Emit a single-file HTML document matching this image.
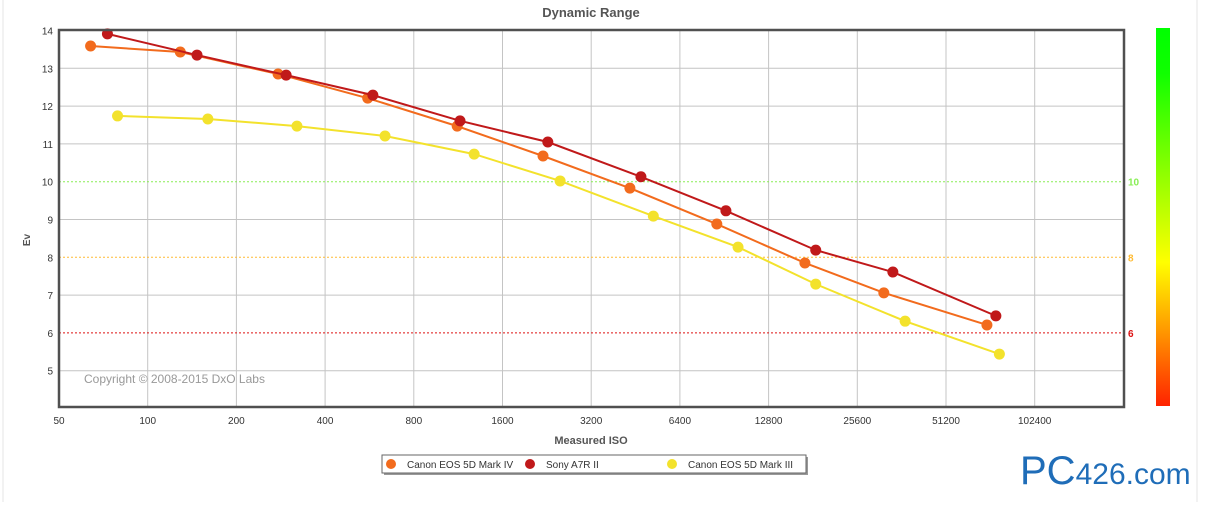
<!DOCTYPE html>
<html><head><meta charset="utf-8"><style>
body{margin:0;background:#fff;width:1210px;height:502px;overflow:hidden;font-family:"Liberation Sans",sans-serif}
</style></head><body>
<svg width="1210" height="502" xmlns="http://www.w3.org/2000/svg" id="svg">
<defs><linearGradient id="cb" x1="0" y1="0" x2="0" y2="1">
<stop offset="0" stop-color="#00ff00"/><stop offset="0.12" stop-color="#10ff00"/><stop offset="0.62" stop-color="#ffff00"/><stop offset="0.8" stop-color="#ff9900"/><stop offset="1" stop-color="#ff2200"/></linearGradient></defs>
<line x1="3" y1="0" x2="3" y2="502" stroke="#e4e4e4"/>
<line x1="1197" y1="0" x2="1197" y2="502" stroke="#e4e4e4"/>
<text x="591" y="17" text-anchor="middle" font-size="13" font-weight="bold" fill="#555">Dynamic Range</text>
<g id="grid"></g>
<g id="series"></g>
<rect x="59" y="30" width="1065" height="377" fill="none" stroke="#505050" stroke-width="2.5"/>
<text transform="translate(30,240) rotate(-90)" text-anchor="middle" font-size="10" font-weight="bold" fill="#555">Ev</text>
<text x="591" y="444" text-anchor="middle" font-size="11" font-weight="bold" fill="#555">Measured ISO</text>
<text x="84" y="383" font-size="12" fill="#999">Copyright © 2008-2015 DxO Labs</text>
<rect x="1156" y="28" width="14" height="378" fill="url(#cb)"/>
<g>
<rect x="384" y="457" width="424" height="18" fill="#999"/>
<rect x="382" y="455" width="424" height="18" fill="#fff" stroke="#666"/>
<circle cx="391" cy="464" r="5" fill="#f26b1d"/><text x="407" y="468" font-size="10" fill="#333">Canon EOS 5D Mark IV</text>
<circle cx="530" cy="464" r="5" fill="#c0191a"/><text x="546" y="468" font-size="10" fill="#333">Sony A7R II</text>
<circle cx="672" cy="464" r="5" fill="#f3e22c"/><text x="688" y="468" font-size="10" fill="#333">Canon EOS 5D Mark III</text>
</g>
<text x="1020" y="484" font-size="40" fill="#1f6db8" font-family="Liberation Sans,sans-serif">PC<tspan font-size="30">426.com</tspan></text>
</svg>
<script>
const xTicks=[50,100,200,400,800,1600,3200,6400,12800,25600,51200,102400];
const yTicks=[5,6,7,8,9,10,11,12,13,14];
const isoIV=[64,129,277,558,1123,2196,4330,8540,17000,31500,70500];
const evIV=[13.59,13.43,12.85,12.21,11.47,10.68,9.83,8.88,7.85,7.06,6.21];
const isoSony=[73,147,295,581,1148,2280,4720,9170,18500,33800,75600];
const evSony=[13.91,13.35,12.82,12.29,11.61,11.05,10.13,9.23,8.19,7.61,6.45];
const isoIII=[79,160,321,639,1282,2510,5200,10080,18500,37200,77700];
const evIII=[11.74,11.66,11.47,11.21,10.73,10.02,9.09,8.27,7.29,6.31,5.44];
const refLevels=[10,8,6];
const refColors=['#88ee55','#ffbb33','#dd1111'];
const NS='http://www.w3.org/2000/svg';
const X=v=>59+Math.log2(v/50)*88.7;
const Y=v=>30.5+(14-v)*37.8;
function mk(t,a,p){const e=document.createElementNS(NS,t);for(const k in a)e.setAttribute(k,a[k]);p.appendChild(e);return e;}
const g=document.getElementById('grid');
xTicks.forEach(t=>{
 const l=mk('line',{x1:X(t),x2:X(t),y1:30,y2:407,stroke:'#c4c4c4'},g);
 
 
 const tx=mk('text',{x:X(t),y:424,'text-anchor':'middle','font-size':10,fill:'#333'},g);tx.textContent=t;
 
 
});
yTicks.forEach(t=>{
 if(!refLevels.includes(t)){const l=mk('line',{x1:59,x2:1124,y1:Y(t),y2:Y(t),stroke:'#c4c4c4'},g);
 
 }
 const tx=mk('text',{x:53,y:Y(t)+4,'text-anchor':'end','font-size':10,fill:'#333'},g);tx.textContent=t;
 
 
});
refLevels.forEach((r,i)=>{
 const l=mk('line',{x1:59,x2:1124,y1:Y(r),y2:Y(r),stroke:refColors[i],'stroke-dasharray':'2,2'},g);
 
 
 const tx=mk('text',{x:1128,y:Y(r)+4,'font-size':10,'font-weight':'bold',fill:refColors[i]},g);tx.textContent=r;
 
 
});
const s=document.getElementById('series');
[[isoIII,evIII,'#f3e22c','canon-5d-mark-iii'],[isoIV,evIV,'#f26b1d','canon-5d-mark-iv'],[isoSony,evSony,'#c0191a','sony-a7r-ii']].forEach(([xs,ys,c,n])=>{
 const pts=xs.map((v,i)=>X(v)+','+Y(ys[i])).join(' ');
 const pl=mk('polyline',{points:pts,fill:'none',stroke:c,'stroke-width':2},s);
 
 
 xs.forEach((v,i)=>{const p=mk('circle',{cx:X(v),cy:Y(ys[i]),r:5.5,fill:c},s);
 
 });
});
</script>
</body></html>
